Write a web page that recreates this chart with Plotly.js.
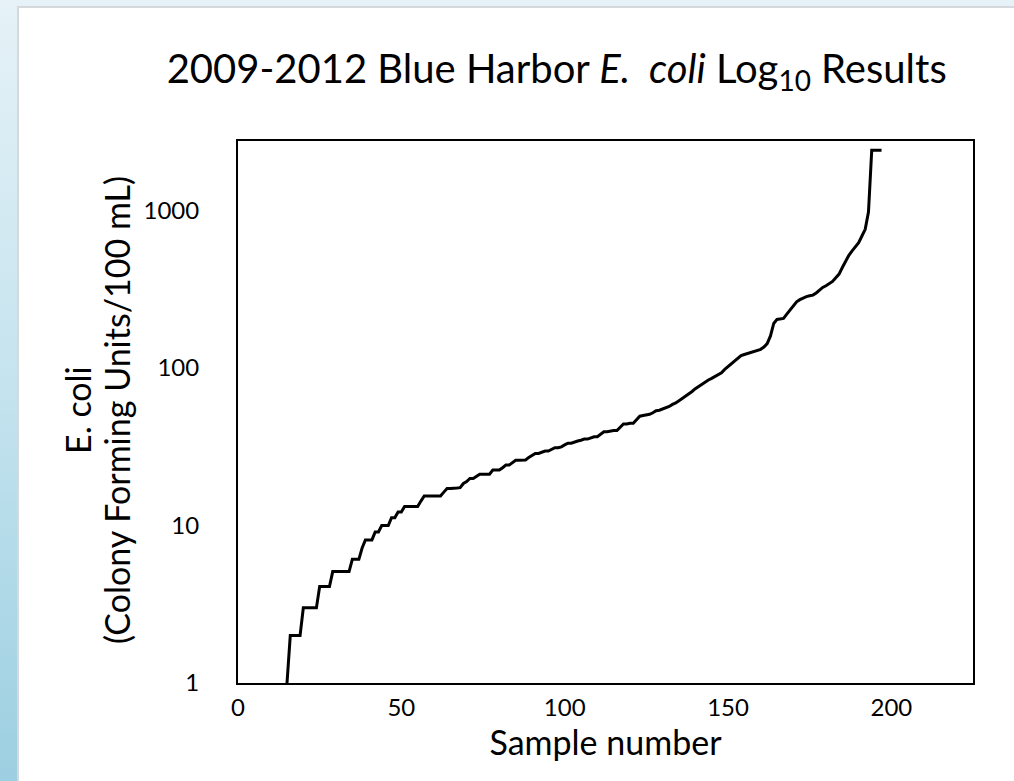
<!DOCTYPE html>
<html>
<head>
<meta charset="utf-8">
<script src="https://cdn.plot.ly/plotly-3.0.1.min.js"></script>
<style>
  html, body { margin: 0; padding: 0; width: 1014px; height: 781px; overflow: hidden; }
  body { background: linear-gradient(to bottom, #e6f2f7 0%, #c4e3ee 50%, #9ccfe1 100%); position: relative; }
  #panel { position: absolute; left: 17px; top: 6px; width: 1100px; height: 900px; background: #ffffff; border: 2px solid #d6d9db; }
  #chart { position: absolute; left: 0; top: 0; width: 1014px; height: 781px; }
</style>
</head>
<body>
<div id="panel"></div>
<div id="chart"></div>
<script>
// Sorted E. coli results (CFU/100 mL), one per sample, starting at sample 15
const firstSample = 15;
const ecoliValues = [
  1,
  2, 2, 2, 2,
  3, 3, 3, 3, 3,
  4.1, 4.1, 4.1, 4.1,
  5.1, 5.1, 5.1, 5.1, 5.1, 5.1,
  6.1, 6.1, 6.1,
  7.2,
  8.1, 8.1, 8.1,
  9.1, 9.1,
  10, 10, 10,
  11.2, 11.2,
  12.2, 12.2,
  13.2, 13.2, 13.2, 13.2, 13.2,
  14.3,
  15.4, 15.4, 15.4, 15.4, 15.4, 15.4,
  // samples 63-92
  16.3, 17.2, 17.2, 17.2, 17.3, 17.4, 18.5, 19.0, 19.9, 19.9,
  20.5, 21.2, 21.2, 21.2, 21.2, 22.5, 22.5, 22.5, 23.3, 24.2,
  24.2, 25.0, 26.0, 26.0, 26.0, 26.1, 27.0, 28.0, 28.7, 28.7,
  // samples 93-122
  29.2, 29.7, 29.7, 30.5, 31.2, 31.2, 31.6, 32.5, 33.3, 33.3,
  34.0, 34.4, 34.8, 35.4, 35.4, 36.0, 36.6, 36.6, 38.0, 39.4,
  39.4, 39.8, 40.1, 40.1, 42.0, 44.1, 44.1, 44.6, 44.6, 47.0,
  // samples 123-152
  49.5, 50.0, 50.4, 50.9, 52.0, 53.6, 54.0, 55.0, 55.5, 57.0,
  58.8, 60.0, 62.0, 64.0, 66.0, 68.5, 71.0, 74.0, 76.5, 79.0,
  81.5, 84.0, 86.0, 88.5, 91.0, 93.4, 98.0, 102.0, 106.0, 111.0,
  // samples 153-182
  116.0, 120.0, 122.0, 124.0, 124.8, 127.0, 129.5, 131.5, 136.0, 143.0,
  160.0, 192.0, 203.7, 205.0, 206.8, 220.0, 235.0, 250.0, 263.6, 272.0,
  279.0, 284.0, 288.0, 290.6, 300.0, 313.0, 325.0, 333.0, 342.0, 355.0,
  // samples 183-197
  375.0, 395.0, 435.0, 480.0, 520.0, 555.0, 590.0, 625.0, 690.0, 760.0,
  980.0, 2419.6, 2419.6, 2419.6, 2419.6
];
const sampleNumbers = ecoliValues.map((_, i) => firstSample + i);

const xTickVals = [0, 50, 100, 150, 200];
const yTickVals = [1, 10, 100, 1000];
const yTickText = ['1', '10', '100', '1000'];
const yTitleLines = ['E. coli', '(Colony Forming Units/100 mL)'];

const FONT = 'Lato, "Open Sans", sans-serif';

const trace = {
  x: sampleNumbers,
  y: ecoliValues,
  type: 'scatter',
  mode: 'lines',
  line: { color: '#000000', width: 3 },
  hoverinfo: 'x+y'
};

const layout = {
  width: 1014,
  height: 781,
  paper_bgcolor: 'rgba(0,0,0,0)',
  plot_bgcolor: '#ffffff',
  margin: { l: 238, r: 41, t: 141, b: 98, pad: 0 },
  showlegend: false,
  font: { family: FONT, color: '#000000' },
  title: {
    text: '2009-2012 Blue Harbor <i>E.\u00a0 coli</i> Log<sub>10</sub> Results',
    font: { family: FONT, size: 40, color: '#000000' },
    x: 0.549, xref: 'container', xanchor: 'center',
    y: 0.912, yref: 'container', yanchor: 'middle'
  },
  xaxis: {
    range: [0, 225],
    tickmode: 'array',
    tickvals: xTickVals,
    ticks: 'outside', ticklen: 2, tickcolor: 'rgba(0,0,0,0)',
    showgrid: false, zeroline: false,
    showline: true, linecolor: '#000000', linewidth: 2, mirror: true,
    tickfont: { family: FONT, size: 24, color: '#000000' },
    title: { text: 'Sample number', font: { family: FONT, size: 34, color: '#000000' }, standoff: 3 }
  },
  yaxis: {
    type: 'log',
    range: [0, 3.442],
    tickmode: 'array',
    tickvals: yTickVals,
    ticktext: yTickText,
    ticks: 'outside', ticklen: 32, tickcolor: 'rgba(0,0,0,0)',
    showgrid: false, zeroline: false,
    showline: true, linecolor: '#000000', linewidth: 2, mirror: true,
    tickfont: { family: FONT, size: 24, color: '#000000' }
  },
  annotations: [
    {
      text: yTitleLines[0], textangle: -90, showarrow: false,
      xref: 'paper', yref: 'paper', x: -0.2177, y: 0.5037,
      xanchor: 'center', yanchor: 'middle',
      font: { family: FONT, size: 34, color: '#000000' }
    },
    {
      text: yTitleLines[1], textangle: -90, showarrow: false,
      xref: 'paper', yref: 'paper', x: -0.1646, y: 0.5037,
      xanchor: 'center', yanchor: 'middle',
      font: { family: FONT, size: 34, color: '#000000' }
    }
  ]
};

Plotly.newPlot('chart', [trace], layout, { displayModeBar: false, staticPlot: true });
</script>
</body>
</html>
